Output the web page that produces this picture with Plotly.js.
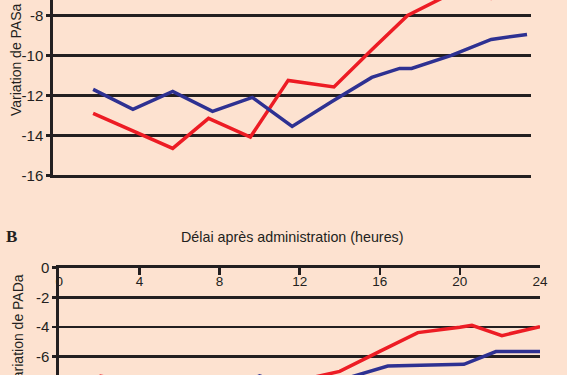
<!DOCTYPE html>
<html>
<head>
<meta charset="utf-8">
<script src="https://cdn.plot.ly/plotly-3.0.1.min.js"></script>
<style>
html,body{margin:0;padding:0;background:#fde2d0;}
#chart{width:567px;height:375px;}
</style>
</head>
<body>
<div id="chart"></div>
<script>
// Panel A (PASa) – partially visible
const hoursA_red = [2, 4, 6, 7.8, 9.9, 11.8, 14.1, 16, 17.8, 20.6, 22, 24];
const pasA_red = [-12.9, -13.78, -14.65, -13.15, -14.08, -11.25, -11.58, -9.72, -8.0, -6.6, -7.15, -6.8];
const hoursA_blue = [2, 4, 6, 8, 10, 12, 14, 16, 17.4, 18, 20, 22, 23.8];
const pasA_blue = [-11.7, -12.7, -11.8, -12.8, -12.1, -13.55, -12.3, -11.1, -10.65, -10.65, -10.0, -9.2, -8.95];

// Panel B (PADa)
const hoursB_red = [2, 4, 6, 8, 10, 12, 14, 16, 17.9, 20, 20.6, 22.1, 24];
const padB_red = [-7.3, -7.9, -8.4, -7.9, -8.3, -7.6, -7.0, -5.65, -4.38, -4.02, -3.89, -4.58, -3.98];
const hoursB_blue = [2, 4, 6, 8, 10, 12, 14, 16.4, 20.2, 21.8, 24];
const padB_blue = [-8.0, -8.5, -8.0, -8.5, -7.3, -8.2, -7.6, -6.63, -6.52, -5.66, -5.66];

// Tick labels
const xTickVals = [0, 4, 8, 12, 16, 20, 24];
const xTickText = ['0', '4', '8', '12', '16', '20', '24'];
const yTickValsA = [-16, -14, -12, -10, -8];
const yTickTextA = ['-16', '-14', '-12', '-10', '-8'];
const yTickValsB = [-6, -4, -2, 0];
const yTickTextB = ['-6', '-4', '-2', '0'];

const W = 567, H = 375;
const px = v => v / W;
const py = v => 1 - v / H;

const RED = '#ed1c24';
const BLUE = '#2e3192';
const INK = '#231f20';
const FONT = 'Liberation Sans, Arial, sans-serif';

const traces = [
  {x: hoursA_red, y: pasA_red, xaxis: 'x', yaxis: 'y', mode: 'lines',
   line: {color: RED, width: 3.5}, hoverinfo: 'skip'},
  {x: hoursA_blue, y: pasA_blue, xaxis: 'x', yaxis: 'y', mode: 'lines',
   line: {color: BLUE, width: 3.5}, hoverinfo: 'skip'},
  {x: hoursB_red, y: padB_red, xaxis: 'x2', yaxis: 'y2', mode: 'lines',
   line: {color: RED, width: 3.5}, hoverinfo: 'skip'},
  {x: hoursB_blue, y: padB_blue, xaxis: 'x2', yaxis: 'y2', mode: 'lines',
   line: {color: BLUE, width: 3.5}, hoverinfo: 'skip'}
];

const yTickFont = {family: FONT, size: 15, color: INK};
const xTickFont = {family: FONT, size: 13.5, color: INK};

const layout = {
  width: W, height: H,
  margin: {l: 0, r: 0, t: 0, b: 0},
  paper_bgcolor: '#fde2d0',
  plot_bgcolor: '#fde2d0',
  showlegend: false,
  xaxis: {
    domain: [px(53.3), px(531)], range: [0, 24], anchor: 'y',
    showgrid: false, zeroline: false, showticklabels: false, ticks: '',
    showline: true, linecolor: INK, linewidth: 2.5
  },
  yaxis: {
    domain: [py(175.4), 1], range: [-16, -7.23], anchor: 'x',
    tickvals: yTickValsA, ticktext: yTickTextA, tickfont: yTickFont,
    ticks: 'outside', ticklen: 4, tickwidth: 2.5, tickcolor: INK,
    showgrid: true, gridcolor: INK, gridwidth: 2.5,
    zeroline: false, showline: true, linecolor: INK, linewidth: 3
  },
  xaxis2: {
    domain: [px(59.3), px(540)], range: [0, 24], anchor: 'y2', side: 'top',
    tickvals: xTickVals, ticktext: xTickText, tickfont: xTickFont,
    ticks: 'inside', ticklen: 7, tickwidth: 2.5, tickcolor: INK,
    ticklabelposition: 'inside', ticklabeloverflow: 'allow', ticklabelstandoff: 2,
    showgrid: false, zeroline: false,
    showline: true, linecolor: INK, linewidth: 3
  },
  yaxis2: {
    domain: [0, py(267.7)], range: [-7.24, 0], anchor: 'x2',
    tickvals: yTickValsB, ticktext: yTickTextB, tickfont: yTickFont,
    ticks: 'outside', ticklen: 4, tickwidth: 2.5, tickcolor: INK,
    showgrid: true, gridcolor: INK, gridwidth: 2.5,
    zeroline: false, showline: true, linecolor: INK, linewidth: 3
  },
  annotations: [
    {text: 'Variation de PASa', xref: 'paper', yref: 'paper',
     x: px(15.5), y: py(118), xanchor: 'center', yanchor: 'bottom',
     textangle: -90, showarrow: false,
     font: {family: FONT, size: 14, color: INK}},
    {text: 'Variation de PADa', xref: 'paper', yref: 'paper',
     x: px(17), y: py(273), xanchor: 'center', yanchor: 'top',
     textangle: -90, showarrow: false,
     font: {family: FONT, size: 14, color: INK}},
    {text: '<b>B</b>', xref: 'paper', yref: 'paper',
     x: px(3.5), y: py(236), xanchor: 'left', yanchor: 'middle',
     showarrow: false,
     font: {family: 'Liberation Serif, Times New Roman, serif', size: 17, color: INK}},
    {text: 'Délai après administration (heures)', xref: 'paper', yref: 'paper',
     x: px(292.5), y: py(236.5), xanchor: 'center', yanchor: 'middle',
     showarrow: false,
     font: {family: FONT, size: 14.3, color: INK}}
  ]
};

Plotly.newPlot('chart', traces, layout, {staticPlot: true, displayModeBar: false});
</script>
</body>
</html>
